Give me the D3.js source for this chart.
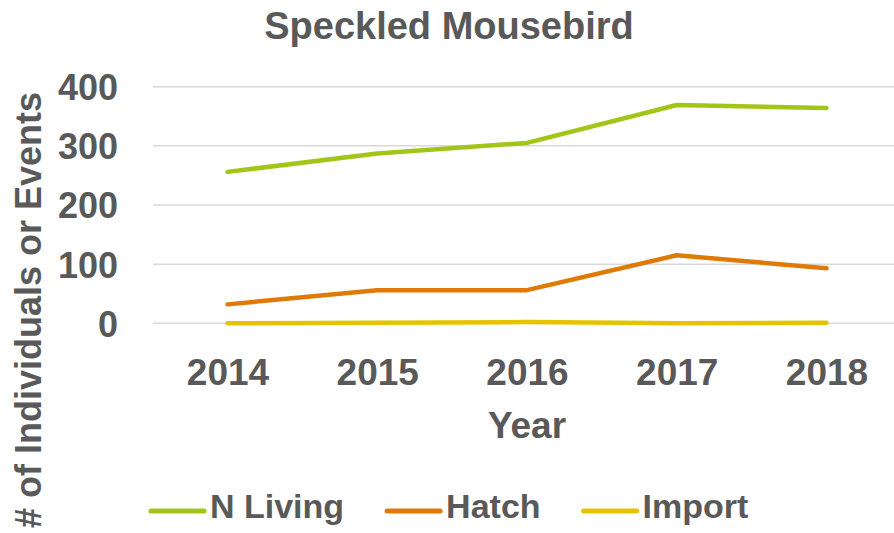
<!DOCTYPE html>
<html>
<head>
<meta charset="utf-8">
<script src="https://cdn.jsdelivr.net/npm/d3@7"></script>
<style>
  html, body { margin: 0; padding: 0; background: #fff; }
  text { font-family: "Liberation Sans", Arial, sans-serif; font-weight: bold; fill: #595959; }
</style>
</head>
<body>
<div id="chart"></div>
<script>
// Data
const years = ['2014', '2015', '2016', '2017', '2018'];
const nLiving = [256, 287, 305, 369, 364];
const hatch = [32, 56, 56, 115, 93];
const imports = [0, 1, 2, 0, 1];
const yTicks = [0, 100, 200, 300, 400];
const seriesNames = ['N Living', 'Hatch', 'Import'];
const seriesColors = ['#a2c617', '#e07a06', '#e6c300'];

const W = 894, H = 533;
const plot = { left: 153, right: 902, top: 86.7, bottom: 323.3 };

const svg = d3.select('#chart').append('svg')
    .attr('width', W)
    .attr('height', H);

const x = d3.scalePoint()
    .domain(years)
    .range([227.5, 826.5]);

const y = d3.scaleLinear()
    .domain([0, 400])
    .range([plot.bottom, plot.top]);

// title
svg.append('text')
    .attr('x', 449)
    .attr('y', 39)
    .attr('text-anchor', 'middle')
    .style('font-size', '38px')
    .text('Speckled Mousebird');

// gridlines
svg.append('g')
    .selectAll('line')
    .data(yTicks)
    .join('line')
    .attr('x1', plot.left)
    .attr('x2', plot.right)
    .attr('y1', d => y(d))
    .attr('y2', d => y(d))
    .attr('stroke', '#d9d9d9')
    .attr('stroke-width', 1.5);

// y axis labels
const yAxis = svg.append('g')
    .attr('transform', 'translate(118,0)')
    .call(d3.axisLeft(y).tickValues(yTicks).tickSize(0).tickPadding(0));
yAxis.select('.domain').remove();
yAxis.selectAll('text')
    .attr('font-family', null)
    .style('font-size', '36px')
    .attr('dy', '0.36em');

// x axis labels
const xAxis = svg.append('g')
    .attr('transform', 'translate(0,349)')
    .call(d3.axisBottom(x).tickSize(0).tickPadding(0));
xAxis.select('.domain').remove();
xAxis.selectAll('text')
    .attr('font-family', null)
    .style('font-size', '37px')
    .attr('dy', '36px');

// axis titles
svg.append('text')
    .attr('x', x('2016'))
    .attr('y', 438)
    .attr('text-anchor', 'middle')
    .style('font-size', '37px')
    .text('Year');

svg.append('text')
    .attr('transform', 'translate(41,310) rotate(-90)')
    .attr('text-anchor', 'middle')
    .style('font-size', '36px')
    .text('# of Individuals or Events');

// lines
const line = d3.line()
    .x((d, i) => x(years[i]))
    .y(d => y(d));

[nLiving, hatch, imports].forEach((vals, i) => {
    svg.append('path')
        .datum(vals)
        .attr('d', line)
        .attr('fill', 'none')
        .attr('stroke', seriesColors[i])
        .attr('stroke-width', 4.5)
        .attr('stroke-linecap', 'round')
        .attr('stroke-linejoin', 'round');
});

// legend
const legend = svg.append('g').attr('transform', 'translate(0,511)');
let lx = 151;
seriesNames.forEach((name, i) => {
    legend.append('line')
        .attr('x1', lx)
        .attr('x2', lx + 53)
        .attr('stroke', seriesColors[i])
        .attr('stroke-width', 5)
        .attr('stroke-linecap', 'round');
    const t = legend.append('text')
        .attr('x', lx + 59)
        .attr('y', 7)
        .style('font-size', '34px')
        .text(name);
    lx += 59 + t.node().getComputedTextLength() + 43;
});
</script>
</body>
</html>
